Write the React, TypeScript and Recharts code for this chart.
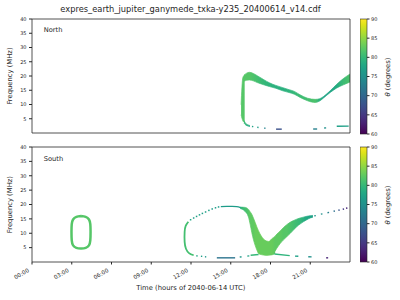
import {
  ComposedChart,
  XAxis,
  YAxis,
  Area,
  Bar,
  Line,
  Scatter,
  ReferenceArea,
} from "recharts";

const FONT = "'DejaVu Sans', sans-serif";
const INK = "#262626";

const timeTicks = [0, 3, 6, 9, 12, 15, 18, 21];
const freqTicks = [5, 10, 15, 20, 25, 30, 35, 40];
const thetaTicks = [60, 65, 70, 75, 80, 85, 90];
const thetaRange = [60, 90];

// ---- North hemisphere ----
// steep onset of the arc (frequency span per time step)
const nVertT = [15.78, 15.91, 16.05];
const nVertLo = [6.4, 4.3, 3.6];
const nVertHi = [9.9, 19.4, 20.4];
const nVertTh = [82, 82, 82];

// upper branch, from the peak to the right edge
const nUpT = [16.0, 16.2, 16.41, 16.7, 17.0, 17.5, 17.92, 18.4, 18.93, 19.4, 19.8, 20.23, 20.8, 21.37, 21.7, 22.0, 22.5, 23.0, 23.5, 24.0];
const nUpLo = [18.2, 18.5, 18.6, 18.3, 17.7, 16.9, 16.3, 15.7, 14.8, 14.2, 13.6, 12.5, 11.3, 10.7, 11.2, 12.3, 14.2, 15.8, 16.9, 17.9];
const nUpHi = [20.3, 21.0, 21.3, 20.9, 20.1, 18.7, 17.6, 16.7, 15.9, 15.2, 14.6, 13.4, 12.2, 11.8, 12.0, 12.8, 14.8, 17.1, 19.1, 20.7];
const nUpTh = [82, 82, 82, 81.5, 81, 80, 79.5, 79, 79, 79.5, 80, 80.5, 81, 81.5, 79, 77.5, 77.5, 78.5, 80.5, 81.5];

// lower branch just after the onset
const nLowT = [16.0, 16.15, 16.3, 16.45];
const nLowLo = [3.4, 2.75, 2.45, 2.25];
const nLowHi = [4.4, 3.25, 2.85, 2.6];
const nLowTh = [80.5, 79.5, 78.5, 78];

// short low-frequency fragments: [t0, t1, f0, f1, theta]
const nBits = [
  [16.6, 16.7, 2.3, 2.25, 77.5],
  [17.0, 17.1, 2.0, 1.95, 76.5],
  [17.52, 17.62, 1.7, 1.68, 73.5],
  [18.42, 18.85, 1.35, 1.35, 67.5],
  [21.22, 21.52, 1.4, 1.4, 73],
  [22.05, 22.2, 1.75, 1.8, 75],
  [23.0, 23.9, 2.35, 2.4, 77],
];

// ---- South hemisphere ----
// closed ring around 03:40
const sRingT = [3.7, 4.05, 4.3, 4.4, 4.42, 4.4, 4.3, 4.05, 3.7, 3.35, 3.1, 3.0, 2.98, 3.0, 3.1, 3.35, 3.7];
const sRingF = [16.0, 15.7, 14.8, 13.2, 10.5, 7.5, 5.8, 4.9, 4.7, 4.9, 5.8, 7.5, 10.5, 13.2, 14.8, 15.7, 16.0];
const sRingTh = 82;

// left side of the big arc
const sSideT = [12.2, 11.85, 11.62, 11.52, 11.52, 11.6, 11.8];
const sSideF = [2.35, 3.1, 4.6, 7.0, 10.5, 12.6, 14.0];
const sSideTh = 81;

// sparse points along the rising part of the arc
const sDotT = [11.97, 12.2, 12.42, 12.64, 12.86, 13.1, 13.35, 13.6, 13.85, 14.08];
const sDotF = [14.7, 15.3, 15.85, 16.4, 16.9, 17.4, 17.95, 18.45, 18.85, 19.15];
const sDotTh = [78, 77, 77, 77, 77, 77, 77, 76.5, 76.5, 76.5];

// flat top of the arc
const sTopT = [14.25, 14.7, 15.1, 15.45, 15.75];
const sTopF = [19.25, 19.35, 19.35, 19.25, 18.9];
const sTopTh = 76.5;

// descending leg and the blob near 17:30
const sLegT = [15.71, 16.08, 16.34, 16.46, 16.59, 16.71, 16.84, 16.97, 17.09, 17.27, 17.47, 17.7, 17.97, 18.2, 18.35];
const sLegLo = [18.6, 17.6, 15.6, 13.2, 10.2, 7.8, 5.8, 4.2, 3.0, 2.6, 2.4, 2.3, 2.4, 2.6, 3.0];
const sLegHi = [19.1, 19.0, 18.3, 17.5, 16.6, 15.3, 13.8, 12.2, 10.9, 9.3, 8.0, 7.3, 7.1, 7.6, 8.4];
const sLegTh = [79.5, 81, 82, 82.5, 82.5, 82.5, 83, 83, 83, 83, 83, 83, 83, 82.5, 82.5];

// rising arm
const sArmT = [17.9, 18.1, 18.35, 18.48, 18.73, 18.98, 19.23, 19.48, 19.73, 19.98, 20.23, 20.48, 20.74, 20.99, 21.2];
const sArmLo = [2.6, 2.8, 3.8, 4.8, 6.4, 7.7, 8.8, 9.9, 11.1, 12.3, 13.2, 14.0, 14.7, 15.3, 15.6];
const sArmHi = [7.1, 8.1, 9.0, 9.7, 10.8, 12.0, 13.0, 13.8, 14.4, 14.9, 15.3, 15.6, 15.9, 16.1, 16.2];
const sArmTh = [83, 83, 82.5, 82.5, 82.5, 82, 82, 81.5, 81, 80.5, 80, 79, 78, 77.5, 77];

const sBits = [
  [12.4, 12.5, 2.15, 2.1, 78],
  [12.75, 12.85, 2.0, 1.95, 77],
  [13.05, 13.15, 1.8, 1.8, 76],
  [13.95, 15.33, 1.45, 1.45, 71.5],
  [15.68, 15.82, 1.75, 1.8, 76],
  [16.25, 16.4, 2.05, 2.15, 77.5],
  [16.5, 17.1, 2.35, 2.6, 80],
  [18.3, 19.45, 2.8, 2.2, 79.5],
  [19.85, 20.1, 2.05, 2.0, 77],
  [20.85, 21.1, 1.85, 1.8, 75],
  [22.2, 22.35, 1.45, 1.45, 63],
  [21.3, 21.42, 16.05, 16.15, 76],
  [21.8, 21.92, 16.65, 16.75, 75],
  [22.3, 22.42, 17.15, 17.25, 73],
  [22.76, 22.86, 17.65, 17.75, 71],
  [23.12, 23.22, 18.0, 18.1, 68],
  [23.45, 23.55, 18.35, 18.45, 65],
  [23.7, 23.8, 18.7, 18.8, 63],
];

const VIRIDIS = [
  "#440154", "#471365", "#482475", "#463480", "#414487", "#3b528b", "#355f8d",
  "#2f6c8e", "#2a788e", "#25848e", "#21918c", "#1e9c89", "#22a884", "#2fb47c",
  "#44bf70", "#5ec962", "#7ad151", "#9bd93c", "#bddf26", "#dfe318", "#fde725",
];

function hexRgb(h: string) {
  return [1, 3, 5].map((i) => parseInt(h.slice(i, i + 2), 16));
}

function viridis(th: number) {
  const u = Math.min(1, Math.max(0, (th - 60) / 30)) * (VIRIDIS.length - 1);
  const i = Math.min(VIRIDIS.length - 2, Math.floor(u));
  const f = u - i;
  const a = hexRgb(VIRIDIS[i]);
  const b = hexRgb(VIRIDIS[i + 1]);
  const c = a.map((v, k) => Math.round(v + (b[k] - v) * f));
  return `rgb(${c[0]},${c[1]},${c[2]})`;
}

type Band = { id: string; t: number[]; lo: number[]; hi: number[]; th: number[] };

const northBands: Band[] = [
  { id: "nv", t: nVertT, lo: nVertLo, hi: nVertHi, th: nVertTh },
  { id: "nu", t: nUpT, lo: nUpLo, hi: nUpHi, th: nUpTh },
  { id: "nl", t: nLowT, lo: nLowLo, hi: nLowHi, th: nLowTh },
];

const southBands: Band[] = [
  { id: "sl", t: sLegT, lo: sLegLo, hi: sLegHi, th: sLegTh },
  { id: "sa", t: sArmT, lo: sArmLo, hi: sArmHi, th: sArmTh },
];

const fmtTime = (v: number) => `${String(v).padStart(2, "0")}:00`;

function bandGradient(b: Band) {
  const t0 = b.t[0];
  const span = b.t[b.t.length - 1] - t0;
  return (
    <linearGradient key={b.id} id={`g-${b.id}`} x1="0" y1="0" x2="1" y2="0">
      {b.t.map((t, i) => (
        <stop key={i} offset={(t - t0) / span} stopColor={viridis(b.th[i])} />
      ))}
    </linearGradient>
  );
}

function renderBand(b: Band) {
  const data = b.t.map((t, i) => ({ t, r: [b.lo[i], b.hi[i]] }));
  return (
    <Area
      key={b.id}
      data={data}
      dataKey="r"
      type="monotone"
      fill={`url(#g-${b.id})`}
      fillOpacity={1}
      stroke={`url(#g-${b.id})`}
      strokeWidth={0.7}
      dot={false}
      activeDot={false}
      isAnimationActive={false}
    />
  );
}

function renderBits(bits: number[][], prefix: string) {
  return bits.map((d, i) => (
    <Line
      key={`${prefix}${i}`}
      data={[
        { t: d[0], f: d[2] },
        { t: d[1], f: d[3] },
      ]}
      dataKey="f"
      type="linear"
      stroke={viridis(d[4])}
      strokeWidth={1.4}
      dot={false}
      activeDot={false}
      isAnimationActive={false}
    />
  ));
}

function XTick(props: any) {
  const { x, y, payload } = props;
  const px = x - 2.5;
  const py = y + 7;
  return (
    <text
      x={px}
      y={py}
      transform={`rotate(-30 ${px} ${py})`}
      textAnchor="end"
      fontSize={5.6}
      fill={INK}
      fontFamily={FONT}
    >
      {fmtTime(payload.value)}
    </text>
  );
}

const yAxisProps = {
  type: "number" as const,
  domain: [0, 40],
  ticks: freqTicks,
  interval: 0 as const,
  width: 32,
  tickSize: 3,
  tickMargin: 2.5,
  axisLine: false,
  stroke: INK,
  tick: { fontSize: 5, fill: INK, fontFamily: FONT },
  allowDataOverflow: true,
};

function ColorBar({ top, id }: { top: number; id: string }) {
  return (
    <div style={{ position: "absolute", left: 360, top: top - 5 }}>
      <ComposedChart
        width={40}
        height={125}
        data={[{ x: "theta", r: thetaRange }]}
        barCategoryGap={0}
        barGap={0}
        margin={{ top: 5, right: 0, bottom: 5, left: 0 }}
      >
        <defs>
          <linearGradient id={id} x1="0" y1="1" x2="0" y2="0">
            {VIRIDIS.map((c, i) => (
              <stop key={i} offset={i / (VIRIDIS.length - 1)} stopColor={c} />
            ))}
          </linearGradient>
        </defs>
        <XAxis type="category" dataKey="x" hide />
        <YAxis
          type="number"
          orientation="right"
          domain={thetaRange}
          ticks={thetaTicks}
          interval={0}
          width={33}
          tickSize={2.5}
          tickMargin={1.5}
          axisLine={false}
          stroke={INK}
          tick={{ fontSize: 5, fill: INK, fontFamily: FONT }}
        />
        <Bar
          dataKey="r"
          fill={`url(#${id})`}
          stroke={INK}
          strokeWidth={0.6}
          isAnimationActive={false}
        />
      </ComposedChart>
    </div>
  );
}

export default function App() {
  const ringData = sRingT.map((t, i) => ({ t, f: sRingF[i] }));
  const sideData = sSideT.map((t, i) => ({ t, f: sSideF[i] }));
  const topData = sTopT.map((t, i) => ({ t, f: sTopF[i] }));
  const dotData = sDotT.map((t, i) => ({ t, f: sDotF[i], th: sDotTh[i] }));

  return (
    <div
      style={{
        position: "absolute",
        left: 0,
        top: 0,
        width: 400,
        height: 300,
        background: "#fff",
        fontFamily: FONT,
      }}
    >
      {/* North panel */}
      <div style={{ position: "absolute", left: 0, top: 0 }}>
        <ComposedChart width={360} height={139} margin={{ top: 19, right: 10, bottom: 0, left: 0 }}>
          <defs>{northBands.map(bandGradient)}</defs>
          <XAxis
            type="number"
            dataKey="t"
            domain={[0, 24]}
            ticks={timeTicks}
            interval={0}
            tick={false}
            tickSize={2.5}
            axisLine={false}
            stroke={INK}
            height={6}
            allowDataOverflow
          />
          <YAxis {...yAxisProps} />
          {northBands.map(renderBand)}
          {renderBits(nBits, "n")}
          <ReferenceArea x1={0} x2={24} y1={0} y2={40} fill="none" stroke={INK} strokeWidth={0.8} />
        </ComposedChart>
      </div>

      {/* South panel */}
      <div style={{ position: "absolute", left: 0, top: 140 }}>
        <ComposedChart width={360} height={160} margin={{ top: 7, right: 10, bottom: 8, left: 0 }}>
          <defs>{southBands.map(bandGradient)}</defs>
          <XAxis
            type="number"
            dataKey="t"
            domain={[0, 24]}
            ticks={timeTicks}
            interval={0}
            tick={<XTick />}
            tickSize={2.5}
            tickMargin={0}
            axisLine={false}
            stroke={INK}
            height={30}
            allowDataOverflow
          />
          <YAxis {...yAxisProps} />
          <Line
            data={ringData}
            dataKey="f"
            type="natural"
            stroke={viridis(sRingTh)}
            strokeWidth={2.5}
            dot={false}
            activeDot={false}
            isAnimationActive={false}
          />
          <Line
            data={sideData}
            dataKey="f"
            type="natural"
            stroke={viridis(sSideTh)}
            strokeWidth={1.8}
            dot={false}
            activeDot={false}
            isAnimationActive={false}
          />
          <Line
            data={topData}
            dataKey="f"
            type="natural"
            stroke={viridis(sTopTh)}
            strokeWidth={1.2}
            dot={false}
            activeDot={false}
            isAnimationActive={false}
          />
          <Scatter
            data={dotData}
            dataKey="f"
            isAnimationActive={false}
            shape={(p: any) => (
              <rect x={p.cx - 0.75} y={p.cy - 0.75} width={1.5} height={1.5} fill={viridis(p.payload.th)} />
            )}
          />
          {southBands.map(renderBand)}
          {renderBits(sBits, "s")}
          <ReferenceArea x1={0} x2={24} y1={0} y2={40} fill="none" stroke={INK} strokeWidth={0.8} />
        </ComposedChart>
      </div>

      <ColorBar top={19} id="cbar-n" />
      <ColorBar top={147} id="cbar-s" />

      <svg
        width={400}
        height={300}
        style={{ position: "absolute", left: 0, top: 0, pointerEvents: "none" }}
        fontFamily={FONT}
        fill={INK}
      >
        <text x={190.5} y={12.3} fontSize={8.3} textAnchor="middle">
          expres_earth_jupiter_ganymede_txka-y235_20400614_v14.cdf
        </text>
        <text x={43.7} y={31.7} fontSize={6.7}>North</text>
        <text x={43.7} y={160.5} fontSize={6.7}>South</text>
        <text x={11.8} y={76} fontSize={6.8} textAnchor="middle" transform="rotate(-90 11.8 76)">
          Frequency (MHz)
        </text>
        <text x={11.8} y={204.6} fontSize={6.8} textAnchor="middle" transform="rotate(-90 11.8 204.6)">
          Frequency (MHz)
        </text>
        <text x={190.9} y={289.5} fontSize={6.8} textAnchor="middle">
          Time (hours of 2040-06-14 UTC)
        </text>
        <text x={390} y={77} fontSize={6.8} textAnchor="middle" transform="rotate(-90 390 77)">
          <tspan fontStyle="italic">θ</tspan> (degrees)
        </text>
        <text x={390} y={205} fontSize={6.8} textAnchor="middle" transform="rotate(-90 390 205)">
          <tspan fontStyle="italic">θ</tspan> (degrees)
        </text>
      </svg>
    </div>
  );
}
